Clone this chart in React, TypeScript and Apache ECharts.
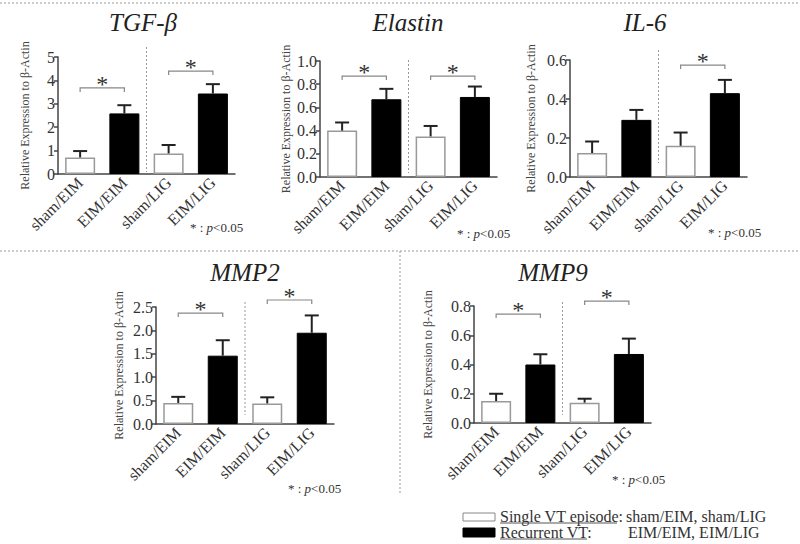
import React, { useEffect, useRef } from "react";
import * as echarts from "echarts";

// ---------- data ----------
const categories = ["sham/EIM", "EIM/EIM", "sham/LIG", "EIM/LIG"];
const panelTitles = ["TGF-β", "Elastin", "IL-6", "MMP2", "MMP9"];
const yAxisName = "Relative Expression to β-Actin";

const tgfMean = [0.71, 2.59, 0.88, 3.44];
const tgfSem = [0.27, 0.35, 0.36, 0.4];
const elastinMean = [0.4, 0.67, 0.35, 0.69];
const elastinSem = [0.07, 0.09, 0.09, 0.09];
const il6Mean = [0.123, 0.293, 0.16, 0.43];
const il6Sem = [0.059, 0.051, 0.068, 0.068];
const mmp2Mean = [0.45, 1.46, 0.44, 1.95];
const mmp2Sem = [0.13, 0.33, 0.13, 0.37];
const mmp9Mean = [0.15, 0.4, 0.139, 0.472];
const mmp9Sem = [0.05, 0.07, 0.027, 0.105];

// axis ranges
const yMax = [5, 1.0, 0.6, 2.5, 0.8];
const yStep = [1, 0.2, 0.2, 0.5, 0.2];
const yDecimals = [0, 1, 1, 1, 1];

// significance brackets: [fromCategory, toCategory, height]
const tgfBrackets = [[0, 1, 3.68], [2, 3, 4.4]];
const elastinBrackets = [[0, 1, 0.87], [2, 3, 0.87]];
const il6Brackets = [[2, 3, 0.574]];
const mmp2Brackets = [[0, 1, 2.37], [2, 3, 2.65]];
const mmp9Brackets = [[0, 1, 0.745], [2, 3, 0.834]];

const legendSingle = "Single VT episode";
const legendSingleGroups = "sham/EIM, sham/LIG";
const legendRecurrent = "Recurrent VT";
const legendRecurrentGroups = "EIM/EIM, EIM/LIG";

// ---------- layout ----------
const FONT = "'Liberation Serif', 'Times New Roman', serif";
const means = [tgfMean, elastinMean, il6Mean, mmp2Mean, mmp9Mean];
const sems = [tgfSem, elastinSem, il6Sem, mmp2Sem, mmp9Sem];
const brackets = [tgfBrackets, elastinBrackets, il6Brackets, mmp2Brackets, mmp9Brackets];

const grids = [
  { left: 58, top: 57, width: 177, height: 117 },
  { left: 320, top: 61, width: 177, height: 116 },
  { left: 570, top: 60, width: 177, height: 117 },
  { left: 156, top: 307, width: 178, height: 117 },
  { left: 474, top: 306, width: 177, height: 117 },
];
const nameGaps = [27, 28, 33, 31, 40];
const titlePos = [[143, 22], [408, 22], [645, 22], [245, 272], [553, 272]];
const notePos = [[190, 227], [457, 233], [708, 232], [288, 488], [612, 479]];
const dividerTopOff = [-10, -1, -10, -5, -4];
const dividerBotOff = [-2, -4, -14, -9, -8];

function buildOption() {
  const grid: any[] = [];
  const xAxis: any[] = [];
  const yAxis: any[] = [];
  const series: any[] = [];
  const graphic: any[] = [];

  for (let i = 0; i < 5; i++) {
    grid.push({ ...grids[i], containLabel: false });
    xAxis.push({
      type: "category",
      gridIndex: i,
      data: categories,
      axisLine: { lineStyle: { color: "#444", width: 1.5 } },
      axisTick: { alignWithLabel: true, length: 4, lineStyle: { color: "#444", width: 1.5 } },
      axisLabel: {
        rotate: 45,
        interval: 0,
        margin: 6,
        fontSize: 16,
        fontFamily: FONT,
        color: "#333",
      },
    });
    const dec = yDecimals[i];
    yAxis.push({
      type: "value",
      gridIndex: i,
      min: 0,
      max: yMax[i],
      interval: yStep[i],
      axisLine: { show: true, lineStyle: { color: "#444", width: 1.5 } },
      axisTick: { show: true, length: 4, lineStyle: { color: "#444", width: 1.5 } },
      splitLine: { show: false },
      axisLabel: {
        margin: 3,
        fontSize: 16,
        fontFamily: FONT,
        color: "#333",
        formatter: (v: number) => v.toFixed(dec),
      },
      name: yAxisName,
      nameLocation: "middle",
      nameRotate: 90,
      nameGap: nameGaps[i],
      nameTextStyle: { fontSize: 12, fontFamily: FONT, color: "#444" },
    });

    series.push({
      type: "bar",
      xAxisIndex: i,
      yAxisIndex: i,
      barWidth: 30,
      z: 2,
      data: means[i].map((v, j) => ({
        value: v,
        itemStyle:
          j % 2 === 0
            ? { color: "#fff", borderColor: "#999", borderWidth: 1.5 }
            : { color: "#000", borderColor: "#000", borderWidth: 1 },
      })),
    });

    series.push({
      type: "custom",
      xAxisIndex: i,
      yAxisIndex: i,
      z: 3,
      clip: false,
      data: means[i].map((m, j) => [j, m, sems[i][j]]),
      renderItem: (params: any, api: any) => {
        const x = api.value(0);
        const m = api.value(1);
        const s = api.value(2);
        const base = api.coord([x, m]);
        const top = api.coord([x, m + s]);
        return {
          type: "group",
          children: [
            {
              type: "line",
              shape: { x1: base[0], y1: base[1], x2: top[0], y2: top[1] },
              style: { stroke: "#222", lineWidth: 2 },
            },
            {
              type: "line",
              shape: { x1: top[0] - 7, y1: top[1], x2: top[0] + 7, y2: top[1] },
              style: { stroke: "#222", lineWidth: 2 },
            },
          ],
        };
      },
    });

    series.push({
      type: "custom",
      xAxisIndex: i,
      yAxisIndex: i,
      z: 3,
      clip: false,
      data: brackets[i],
      renderItem: (params: any, api: any) => {
        const p0 = api.coord([api.value(0), api.value(2)]);
        const p1 = api.coord([api.value(1), api.value(2)]);
        return {
          type: "group",
          children: [
            {
              type: "polyline",
              shape: {
                points: [
                  [p0[0], p0[1] + 4],
                  [p0[0], p0[1]],
                  [p1[0], p1[1]],
                  [p1[0], p1[1] + 4],
                ],
              },
              style: { stroke: "#888", lineWidth: 1.2, fill: null },
            },
            {
              type: "text",
              x: (p0[0] + p1[0]) / 2,
              y: p0[1] - 4,
              style: {
                text: "*",
                fontSize: 24,
                fontFamily: FONT,
                fill: "#333",
                align: "center",
                verticalAlign: "middle",
                textAlign: "center",
                textVerticalAlign: "middle",
              },
            },
          ],
        };
      },
    });

    const topOff = dividerTopOff[i];
    const botOff = dividerBotOff[i];
    const ym = yMax[i];
    series.push({
      type: "custom",
      xAxisIndex: i,
      yAxisIndex: i,
      z: 1,
      clip: false,
      data: [[1, 0]],
      renderItem: (params: any, api: any) => {
        const a = api.coord([1, 0]);
        const b = api.coord([2, ym]);
        const x = (a[0] + b[0]) / 2;
        return {
          type: "line",
          shape: { x1: x, y1: b[1] + topOff, x2: x, y2: a[1] + botOff },
          style: { stroke: "#999", lineWidth: 1, lineDash: [2, 2] },
        };
      },
    });

    graphic.push({
      type: "text",
      x: titlePos[i][0],
      y: titlePos[i][1],
      style: {
        text: panelTitles[i],
        fontSize: 25,
        fontFamily: FONT,
        fontStyle: "italic",
        fill: "#222",
        align: "center",
        verticalAlign: "middle",
        textAlign: "center",
        textVerticalAlign: "middle",
      },
    });
    graphic.push({
      type: "text",
      x: notePos[i][0],
      y: notePos[i][1],
      style: {
        text: "{a|* : }{b|p}{a|<0.05}",
        verticalAlign: "middle",
        textVerticalAlign: "middle",
        rich: {
          a: { fontSize: 13, fontFamily: FONT, fill: "#333", color: "#333" },
          b: { fontSize: 13, fontFamily: FONT, fontStyle: "italic", fill: "#333", color: "#333" },
        },
      },
    });
  }

  // dashed separators
  const dash = { stroke: "#999", lineWidth: 1, lineDash: [2, 2] };
  graphic.push({ type: "line", shape: { x1: 0, y1: 3, x2: 800, y2: 3 }, style: dash });
  graphic.push({ type: "line", shape: { x1: 0, y1: 251, x2: 800, y2: 251 }, style: dash });
  graphic.push({ type: "line", shape: { x1: 400, y1: 251, x2: 400, y2: 493 }, style: dash });

  // legend
  graphic.push({
    type: "rect",
    shape: { x: 463, y: 513, width: 32, height: 8 },
    style: { fill: "#fff", stroke: "#888", lineWidth: 1 },
  });
  graphic.push({
    type: "rect",
    shape: { x: 463, y: 528, width: 32, height: 9 },
    style: { fill: "#000", stroke: "#000", lineWidth: 1 },
  });
  const legText = (text: string, x: number, y: number) => ({
    type: "text",
    x,
    y,
    style: {
      text,
      fontSize: 16,
      fontFamily: FONT,
      fill: "#333",
      verticalAlign: "middle",
      textVerticalAlign: "middle",
    },
  });
  graphic.push(legText(legendSingle + ":", 500, 516));
  graphic.push(legText(legendSingleGroups, 626, 516));
  graphic.push(legText(legendRecurrent + ":", 500, 532));
  graphic.push(legText(legendRecurrentGroups, 628, 532));
  graphic.push({ type: "line", shape: { x1: 500, y1: 523, x2: 617, y2: 523 }, style: { stroke: "#555", lineWidth: 1 } });
  graphic.push({ type: "line", shape: { x1: 500, y1: 539, x2: 587, y2: 539 }, style: { stroke: "#555", lineWidth: 1 } });

  return {
    animation: false,
    backgroundColor: "#fff",
    textStyle: { fontFamily: FONT },
    grid,
    xAxis,
    yAxis,
    series,
    graphic,
  };
}

export default function App() {
  const ref = useRef<HTMLDivElement>(null);
  useEffect(() => {
    const chart = echarts.init(ref.current!, null, { renderer: "svg" });
    chart.setOption(buildOption() as any);
    return () => chart.dispose();
  }, []);
  return (
    <div
      ref={ref}
      style={{ position: "fixed", left: 0, top: 0, width: 800, height: 544 }}
    />
  );
}
